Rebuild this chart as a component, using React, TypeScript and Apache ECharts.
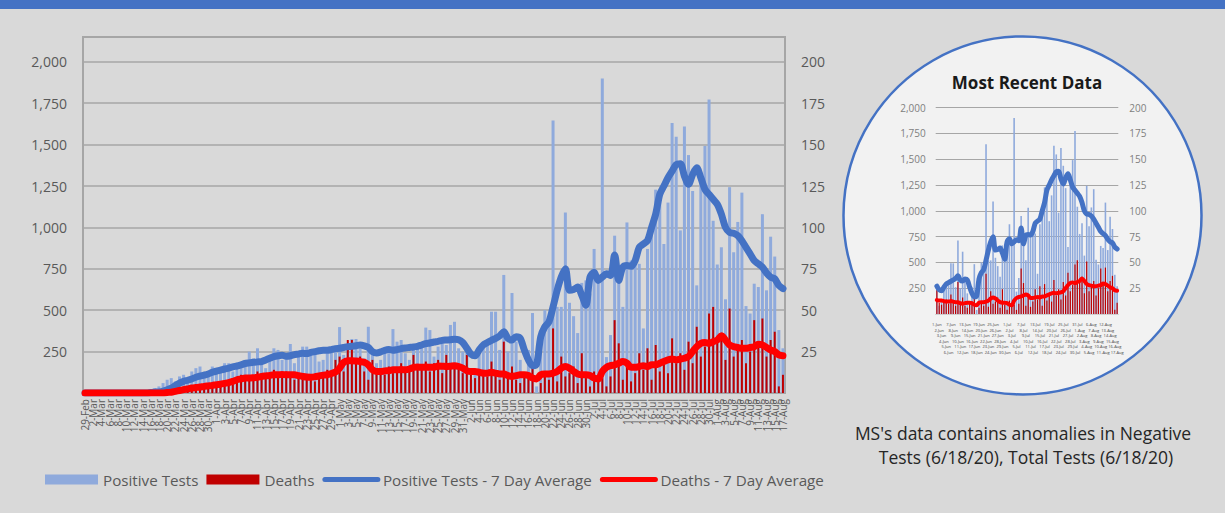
import { useEffect, useRef } from 'react';
import * as echarts from 'echarts';

// ---------- categories ----------
const monthSpans: [string, number, number][] = [
  ['Feb', 29, 29], ['Mar', 1, 31], ['Apr', 1, 30], ['May', 1, 31],
  ['Jun', 1, 30], ['Jul', 1, 31], ['Aug', 1, 17],
];
const dates: string[] = [];
monthSpans.forEach(([m, a, b]) => { for (let d = a; d <= b; d++) dates.push(`${d}-${m}`); });

// ---------- series values (29-Feb .. 17-Aug) ----------
const positiveTests = [
  0, 0, 0, 0, 0, 0, 0, 0, 0, 0, 0,
  1, 0, 6, 4, 11, 21, 30, 40, 60, 80,
  90, 70, 100, 110, 70, 130, 150, 160, 90, 130, 160,
  // Apr
  140, 120, 180, 180, 130, 150, 170, 200, 250, 210, 270, 180, 150, 200, 270, 260, 200, 240, 296, 180,
  220, 280, 280, 260, 230, 190, 200, 240, 275, 280,
  // May
  398, 230, 260, 326, 326, 270, 210, 400, 250, 180, 200, 270, 240, 386, 310, 320, 240, 200, 270, 300,
  290, 395, 380, 220, 280, 300, 290, 411, 430, 270, 250,
  // Jun
  270, 80, 130, 230, 310, 300, 491, 491, 260, 713, 250, 604, 310, 200, 120, 260, 483, 40, 360, 500,
  440, 1645, 520, 520, 1090, 545, 464, 362, 665, 680,
  // Jul
  600, 870, 700, 1900, 217, 350, 950, 750, 520, 1030, 800, 830, 780, 390, 870, 1030, 1228, 1220, 900, 1150,
  1631, 1547, 982, 1610, 1437, 1220, 650, 1330, 1492, 1773, 1040,
  // Aug
  776, 880, 566, 1243, 850, 1033, 1210, 525, 480, 660, 640, 1080, 620, 944, 824, 380, 270,
];

const deaths = [
  0, 0, 0, 0, 0, 0, 0, 0, 0, 0, 0, 0, 0, 0, 0, 0, 0, 0, 0, 0,
  1, 1, 0, 1, 2, 2, 3, 4, 3, 4, 5, 6,
  // Apr
  5, 6, 5, 7, 8, 9, 11, 8, 10, 9, 13, 12, 9, 11, 14, 12, 10, 13, 11, 8, 12, 9, 10, 8, 7, 12, 11, 14, 13, 20,
  // May
  22, 13, 32, 32, 20, 22, 13, 8, 20, 12, 14, 11, 16, 12, 15, 18, 13, 14, 23, 14,
  16, 19, 13, 18, 20, 12, 23, 16, 18, 15, 12,
  // Jun
  23, 11, 9, 12, 14, 10, 19, 12, 8, 31, 10, 16, 8, 6, 12, 9, 16, 0, 6, 10, 8, 39, 7, 22, 10, 12, 16, 6, 24, 9,
  // Jul
  4, 13, 9, 9, 4, 10, 44, 30, 8, 16, 7, 12, 24, 14, 27, 8, 29, 13, 20, 12,
  33, 18, 24, 14, 31, 18, 40, 22, 28, 48, 52,
  // Aug
  31, 36, 20, 51, 22, 27, 32, 18, 25, 44, 30, 45, 22, 32, 37, 4, 11,
];

const positiveAvg = [
  0, 0, 0, 0, 0, 0, 0, 0, 0, 0, 0, 0, 0, 0, 0, 0,
  3, 5, 7, 12, 20, 30, 45, 60, 70, 77, 85, 95, 102, 108, 115, 125,
  // Apr
  132, 138, 145, 150, 158, 163, 170, 178, 182, 185, 188, 190, 200, 210, 220, 225, 228, 222, 225, 232,
  235, 240, 238, 245, 250, 255, 258, 258, 262, 268,
  // May
  270, 275, 280, 282, 285, 290, 285, 275, 250, 242, 248, 258, 262, 258, 262, 268, 272, 275, 278, 282,
  290, 298, 302, 308, 312, 318, 320, 322, 325, 322, 305,
  // Jun
  270, 235, 225, 260, 290, 305, 318, 330, 345, 370, 330, 320, 340, 330, 260, 200, 165, 175, 340, 400,
  430, 520, 620, 700, 750, 620, 625, 640, 590, 530,
  // Jul
  700, 730, 680, 700, 720, 710, 834, 680, 760, 770, 765, 800, 880, 900, 920, 1000, 1080, 1200, 1250, 1300,
  1340, 1380, 1385, 1310, 1260, 1320, 1360, 1300, 1230, 1200, 1170,
  // Aug
  1140, 1080, 1000, 970, 965, 950, 920, 880, 840, 800, 780, 760, 725, 700, 690, 650, 630,
];

const deathsAvg = [
  0, 0, 0, 0, 0, 0, 0, 0, 0, 0, 0, 0, 0, 0, 0, 0, 0, 0, 0, 0,
  0.3, 0.5, 1, 1.5, 2, 2.5, 3, 3.3, 3.6, 4, 4.3, 4.6,
  // Apr
  5, 5.3, 5.8, 6.3, 7, 8, 8.5, 9, 9, 9.2, 9.5, 10, 10.3, 10.6, 11, 11, 11.2, 11, 11, 11,
  10.5, 10, 9.6, 9.5, 9.8, 10.3, 10.8, 11, 11.8, 12.7,
  // May
  15, 18.5, 19.5, 19.5, 19.3, 19, 18.5, 17, 14, 13, 13, 13.3, 13.5, 14, 14, 14.2, 14, 14.5, 15.5, 15.7,
  15.5, 15.7, 15.5, 15.5, 16.3, 16.2, 16, 16.2, 16.5, 16, 15,
  // Jun
  13.5, 13, 13, 12.5, 12, 12, 12.5, 12, 11.5, 11.5, 10.5, 10, 10.5, 11, 11, 10.5, 9, 8.5, 11, 11.5,
  11.5, 12, 13, 15, 16, 15, 13, 11.5, 11, 11,
  // Jul
  10.5, 9, 8.5, 13, 15.5, 16.5, 17, 18, 19, 18, 15.5, 15.5, 16, 16.5, 16, 17, 17, 18, 19, 20,
  20.5, 20, 20.5, 21, 22, 25, 28, 30, 30.5, 30, 31,
  // Aug
  32, 34.5, 32, 29, 28, 27.5, 27, 27, 27.5, 28, 29.5, 29, 27.5, 26, 25, 23, 22.5,
];

// most recent window shown in the circle (1-Jun onward)
const recentStart = 93;

const leftTicks = [250, 500, 750, 1000, 1250, 1500, 1750, 2000];
const rightTicks = [25, 50, 75, 100, 125, 150, 175, 200];

const FONT = "'Open Sans', 'Noto Sans', sans-serif";
const LABEL = '#595959';
const GRIDC = '#a6a6a6';
const BLUE = '#4472c4';
const RED = '#ff0000';
const BAR_BLUE = '#8faadc';
const BAR_RED = '#c00000';

function App() {
  const ref = useRef<HTMLDivElement>(null);
  useEffect(() => {
    if (!ref.current) return;
    const chart = echarts.init(ref.current, undefined, { renderer: 'svg' });
    const fmtLeft = (v: number) => (leftTicks.includes(v) ? v.toLocaleString('en-US') : '');
    const fmtRight = (v: number) => (rightTicks.includes(v) ? String(v) : '');
    const rDates = dates.slice(recentStart);
    const centerText = (text: string, x: number, y: number, font: string, fill: string) => ({
      type: 'text', z: 10, x, y,
      style: {
        text, font, fill,
        textAlign: 'center', textVerticalAlign: 'middle', align: 'center', verticalAlign: 'middle',
      },
    });
    // every second date is labelled; the labels are split over two coincident axes
    const mainLabel = {
      rotate: 90, fontSize: 10, lineHeight: 6, color: LABEL, margin: 6, fontFamily: FONT,
      hideOverlap: false, showMinLabel: true, showMaxLabel: true,
    };

    chart.setOption({
      animation: false,
      backgroundColor: '#d9d9d9',
      textStyle: { fontFamily: FONT },
      graphic: [
        { type: 'rect', z: -10, shape: { x: 0, y: 0, width: 1225, height: 9 }, style: { fill: BLUE } },
        {
          type: 'circle', z: -10, shape: { cx: 1022.5, cy: 215.5, r: 179 },
          style: { fill: '#f2f2f2', stroke: BLUE, lineWidth: 2.5 },
        },
        centerText('Most Recent Data', 1027, 82, `bold 17px ${FONT}`, '#1a1a1a'),
        centerText("MS's data contains anomalies in Negative", 1023, 433, `17.5px ${FONT}`, '#262626'),
        centerText('Tests (6/18/20), Total Tests (6/18/20)', 1026, 457, `17.5px ${FONT}`, '#262626'),
      ],
      legend: {
        left: 40, top: 467, itemWidth: 53, itemHeight: 10, itemGap: 8,
        textStyle: { fontSize: 15.2, color: LABEL, fontFamily: FONT },
        data: [
          { name: 'Positive Tests', icon: 'rect' },
          { name: 'Deaths', icon: 'rect' },
          { name: 'Positive Tests - 7 Day Average', itemStyle: { opacity: 0 }, lineStyle: { width: 5, cap: 'round' } },
          { name: 'Deaths - 7 Day Average', itemStyle: { opacity: 0 }, lineStyle: { width: 5, cap: 'round' } },
        ],
      },
      grid: [
        { left: 83, top: 37, width: 702, height: 356, show: true, borderColor: GRIDC, borderWidth: 2, backgroundColor: 'transparent' },
        { left: 935.7, top: 107.7, width: 182.6, height: 206.3 },
      ],
      xAxis: [
        {
          type: 'category', gridIndex: 0, position: 'bottom', data: dates,
          axisTick: { show: false }, axisLine: { show: false },
          axisLabel: { ...mainLabel, interval: (i: number) => i % 4 === 0 },
        },
        {
          type: 'category', gridIndex: 0, position: 'bottom', data: dates,
          axisTick: { show: false }, axisLine: { show: false }, splitLine: { show: false },
          axisLabel: { ...mainLabel, interval: (i: number) => i % 4 === 2 },
        },
        {
          type: 'category', gridIndex: 1, data: rDates,
          axisTick: { show: false }, axisLine: { show: true, lineStyle: { color: '#d0d0d0' } },
          axisLabel: {
            interval: 0, fontSize: 4, lineHeight: 5.5, color: '#404040', margin: 8, fontFamily: FONT,
            showMinLabel: true, showMaxLabel: true, hideOverlap: false,
            formatter: (v: string, i: number) => '\n'.repeat(i % 6) + v,
          },
        },
        { type: 'category', gridIndex: 1, data: rDates, show: false },
      ],
      yAxis: [
        {
          type: 'value', gridIndex: 0, min: 0, max: 2150, interval: 250,
          axisLine: { show: false }, axisTick: { show: false },
          axisLabel: { formatter: fmtLeft, fontSize: 14, color: LABEL, margin: 16, fontFamily: FONT },
          splitLine: { lineStyle: { color: GRIDC, width: 1.5 } },
        },
        {
          type: 'value', gridIndex: 0, position: 'right', min: 0, max: 215, interval: 25,
          axisLine: { show: false }, axisTick: { show: false },
          axisLabel: { formatter: fmtRight, fontSize: 14, color: LABEL, margin: 16, fontFamily: FONT },
          splitLine: { show: false },
        },
        {
          type: 'value', gridIndex: 1, min: 0, max: 2000, interval: 250,
          axisLine: { show: false }, axisTick: { show: false },
          axisLabel: { formatter: fmtLeft, fontSize: 10, color: '#7f7f7f', margin: 10, fontFamily: FONT },
          splitLine: { lineStyle: { color: GRIDC, width: 1 } },
        },
        {
          type: 'value', gridIndex: 1, position: 'right', min: 0, max: 200, interval: 25,
          axisLine: { show: false }, axisTick: { show: false },
          axisLabel: { formatter: fmtRight, fontSize: 10, color: '#7f7f7f', margin: 11, fontFamily: FONT },
          splitLine: { show: false },
        },
      ],
      series: [
        { name: 'Positive Tests', type: 'bar', xAxisIndex: 0, yAxisIndex: 0, data: positiveTests, barWidth: 3, itemStyle: { color: BAR_BLUE } },
        { name: 'Deaths', type: 'bar', xAxisIndex: 1, yAxisIndex: 1, data: deaths, barWidth: 2, itemStyle: { color: BAR_RED } },
        {
          name: 'Positive Tests - 7 Day Average', type: 'line', xAxisIndex: 0, yAxisIndex: 0, data: positiveAvg,
          symbol: 'none', smooth: 0.3, itemStyle: { color: BLUE },
          lineStyle: { color: BLUE, width: 7, cap: 'round', join: 'round' },
        },
        {
          name: 'Deaths - 7 Day Average', type: 'line', xAxisIndex: 0, yAxisIndex: 1, data: deathsAvg,
          symbol: 'none', smooth: 0.3, itemStyle: { color: RED },
          lineStyle: { color: RED, width: 7, cap: 'round', join: 'round' },
        },
        { name: 'Positive Tests', type: 'bar', xAxisIndex: 2, yAxisIndex: 2, data: positiveTests.slice(recentStart), barWidth: 1.6, itemStyle: { color: BAR_BLUE } },
        { name: 'Deaths', type: 'bar', xAxisIndex: 3, yAxisIndex: 3, data: deaths.slice(recentStart), barWidth: 1.2, itemStyle: { color: BAR_RED } },
        {
          name: 'Positive Tests - 7 Day Average', type: 'line', xAxisIndex: 2, yAxisIndex: 2, data: positiveAvg.slice(recentStart),
          symbol: 'none', smooth: 0.3, itemStyle: { color: BLUE },
          lineStyle: { color: BLUE, width: 5, cap: 'round', join: 'round' },
        },
        {
          name: 'Deaths - 7 Day Average', type: 'line', xAxisIndex: 2, yAxisIndex: 3, data: deathsAvg.slice(recentStart),
          symbol: 'none', smooth: 0.3, itemStyle: { color: RED },
          lineStyle: { color: RED, width: 4, cap: 'round', join: 'round' },
        },
      ],
    });
    return () => chart.dispose();
  }, []);
  return <div ref={ref} style={{ position: 'fixed', left: 0, top: 0, width: 1225, height: 513 }} />;
}

export default App;
